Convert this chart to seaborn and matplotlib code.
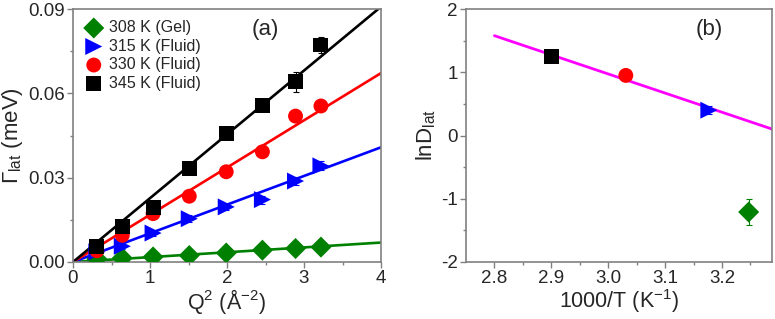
import numpy as np
import pandas as pd
import matplotlib
matplotlib.use("Agg")
import matplotlib.pyplot as plt
import seaborn as sns

# ---------------- data ----------------
q2 = [0.31, 0.64, 1.04, 1.51, 1.99, 2.46, 2.89, 3.22]
labels = ["308 K (Gel)", "315 K (Fluid)", "330 K (Fluid)", "345 K (Fluid)"]
colors = ["#008000", "#0000FF", "#FF0000", "#000000"]
markers = ["D", ">", "o", "s"]

gamma_308 = [0.0011, 0.0014, 0.0018, 0.0023, 0.0032, 0.0042, 0.0048, 0.0053]
gamma_315 = [0.0036, 0.0056, 0.0103, 0.0154, 0.0196, 0.0222, 0.0288, 0.0342]
gamma_330 = [0.0040, 0.0095, 0.0172, 0.0234, 0.0321, 0.0392, 0.0519, 0.0555]
gamma_345 = [0.0056, 0.0127, 0.0194, 0.0333, 0.0457, 0.0558, 0.0641, 0.0772]

err_308 = [0.0003] * 8
err_315 = [0.0008, 0.0008, 0.0010, 0.0012, 0.0012, 0.0014, 0.0015, 0.0016]
err_330 = [0.0005] * 8
err_345 = [0.0006, 0.0008, 0.0010, 0.0010, 0.0012, 0.0015, 0.0035, 0.0030]

# fitted slopes of Gamma = D * Q^2 (meV A^2)
fit_slopes = [0.00173, 0.0102, 0.0168, 0.0227]
fit_q2 = [0.0, 4.0]

# panel (b)
inv_T = [3.247, 3.177, 3.031, 2.900]
lnD = [-1.21, 0.40, 0.95, 1.245]
lnD_err = [0.20, 0.06, 0.04, 0.04]
arr_x = [2.80, 3.294]
arr_y = [1.578, 0.084]

# ---------------- style ----------------
sns.set_style("ticks")
plt.rcParams["font.family"] = ["Liberation Sans", "DejaVu Sans"]
plt.rcParams["mathtext.fontset"] = "custom"
plt.rcParams["mathtext.rm"] = "Liberation Sans"
plt.rcParams["mathtext.it"] = "Liberation Sans:italic"
plt.rcParams["mathtext.sf"] = "Liberation Sans"

fig = plt.figure(figsize=(7.75, 3.19), dpi=100)
W, H = 775, 319
axA = fig.add_axes([73 / W, (H - 262) / H, (381 - 73) / W, (262 - 9) / H])
axB = fig.add_axes([466 / W, (H - 262) / H, (772 - 466) / W, (262 - 9) / H])

spine_col = "#808080"

def style_axes(ax):
    for s in ax.spines.values():
        s.set_color(spine_col)
        s.set_linewidth(1.2)
    ax.tick_params(which="major", direction="out", length=4, width=1, color=spine_col,
                   labelsize=13.5, pad=2)
    ax.tick_params(which="minor", direction="out", length=2.5, width=1, color=spine_col)

# ---------------- panel (a) ----------------
gammas = [gamma_308, gamma_315, gamma_330, gamma_345]
errs = [err_308, err_315, err_330, err_345]
for i in range(4):
    xs = np.array(fit_q2)
    sns.lineplot(x=xs, y=fit_slopes[i] * xs, ax=axA, color=colors[i], lw=1.9,
                 zorder=2, legend=False)
for i in range(4):
    axA.errorbar(q2, gammas[i], yerr=errs[i], fmt="none", ecolor=colors[i],
                 elinewidth=0.8, capsize=2.5, capthick=0.8, zorder=3)
    df = pd.DataFrame({"q2": q2, "g": gammas[i]})
    sns.scatterplot(data=df, x="q2", y="g", ax=axA, color=colors[i],
                    marker=markers[i], s=115 if markers[i] != ">" else 150,
                    edgecolor="none", linewidth=0, zorder=4, label=labels[i])

axA.set_xlim(0, 4)
axA.set_ylim(0, 0.09)
axA.set_xticks([0, 1, 2, 3, 4])
axA.set_xticks([0.5, 1.5, 2.5, 3.5], minor=True)
axA.set_yticks([0, 0.03, 0.06, 0.09])
axA.set_yticklabels(["0.00", "0.03", "0.06", "0.09"])
axA.set_yticks([0.015, 0.045, 0.075], minor=True)
axA.set_xlabel("Q$^{2}$ (Å$^{-2}$)", fontsize=15.5, labelpad=0)
axA.set_ylabel(r"$\Gamma_{\rm lat}$ (meV)", fontsize=16, labelpad=2)
style_axes(axA)
axA.text(0.58, 0.92, "(a)", transform=axA.transAxes, fontsize=16, ha="left", va="center")
leg = axA.legend(loc="upper left", frameon=False, fontsize=11.5, handletextpad=0.35,
                 labelspacing=0.22, borderaxespad=0.3, handlelength=1.2,
                 bbox_to_anchor=(0.0, 1.0))

# ---------------- panel (b) ----------------
sns.lineplot(x=arr_x, y=arr_y, ax=axB, color="#FF00FF", lw=2.0, zorder=2, legend=False)
for i in range(4):
    axB.errorbar([inv_T[i]], [lnD[i]], yerr=[lnD_err[i]], fmt="none", ecolor=colors[i],
                 elinewidth=0.8, capsize=2.5, capthick=0.8, zorder=3)
    df = pd.DataFrame({"x": [inv_T[i]], "y": [lnD[i]]})
    sns.scatterplot(data=df, x="x", y="y", ax=axB, color=colors[i], marker=markers[i],
                    s=115 if markers[i] != ">" else 150, edgecolor="none", linewidth=0,
                    zorder=4, legend=False)

axB.set_xlim(2.75, 3.288)
axB.set_ylim(-2, 2)
axB.set_xticks([2.8, 2.9, 3.0, 3.1, 3.2])
axB.set_xticklabels(["2.8", "2.9", "3.0", "3.1", "3.2"])
axB.set_xticks([2.85, 2.95, 3.05, 3.15, 3.25], minor=True)
axB.set_yticks([-2, -1, 0, 1, 2])
axB.set_yticklabels(["-2", "-1", "0", "1", "2"])
axB.set_yticks([-1.5, -0.5, 0.5, 1.5], minor=True)
axB.set_xlabel("1000/T (K$^{-1}$)", fontsize=15.5, labelpad=0)
axB.set_ylabel(r"lnD$_{\rm lat}$", fontsize=16, labelpad=2)
style_axes(axB)
axB.text(0.75, 0.92, "(b)", transform=axB.transAxes, fontsize=16, ha="left", va="center")

fig.savefig("out.png", dpi=100)
